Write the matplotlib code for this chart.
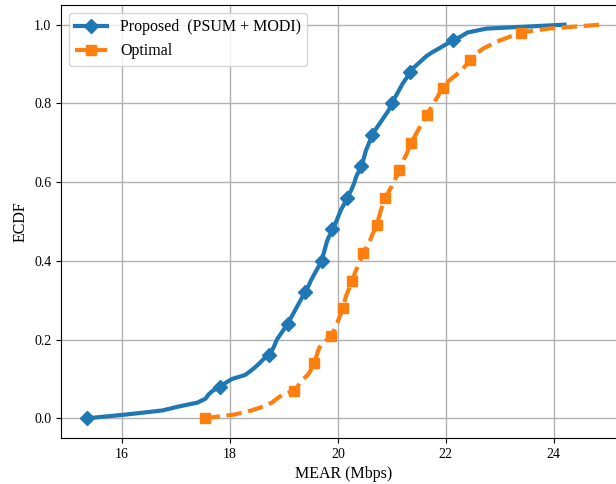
import matplotlib
matplotlib.use("Agg")
import matplotlib.pyplot as plt
import numpy as np

plt.rcParams['font.family'] = ['Liberation Serif', 'DejaVu Serif']

# Sorted samples (Mbps)
proposed_mear = [
    15.35, 16.10, 16.75, 17.05, 17.40, 17.55, 17.60, 17.68, 17.82, 17.92,
    18.04, 18.28, 18.38, 18.47, 18.55, 18.62, 18.72, 18.77, 18.81, 18.84,
    18.87, 18.92, 18.97, 19.02, 19.07, 19.11, 19.15, 19.19, 19.23, 19.27,
    19.31, 19.35, 19.39, 19.43, 19.47, 19.50, 19.54, 19.58, 19.62, 19.66,
    19.70, 19.72, 19.74, 19.76, 19.78, 19.80, 19.83, 19.87, 19.90, 19.94,
    19.97, 20.00, 20.03, 20.06, 20.10, 20.14, 20.17, 20.21, 20.25, 20.28,
    20.31, 20.33, 20.36, 20.40, 20.43, 20.46, 20.48, 20.50, 20.52, 20.55,
    20.58, 20.61, 20.64, 20.68, 20.73, 20.78, 20.83, 20.88, 20.93, 20.97,
    21.01, 21.04, 21.08, 21.12, 21.16, 21.20, 21.25, 21.30, 21.34, 21.40,
    21.48, 21.56, 21.64, 21.75, 21.88, 22.00, 22.14, 22.28, 22.40, 22.75,
    24.20,
]
optimal_mear = [
    17.53, 18.10, 18.40, 18.62, 18.78, 18.87, 18.98, 19.18, 19.25, 19.30,
    19.36, 19.44, 19.49, 19.52, 19.55, 19.58, 19.61, 19.63, 19.66, 19.72,
    19.80, 19.88, 19.92, 19.95, 19.98, 20.01, 20.04, 20.07, 20.09, 20.11,
    20.13, 20.15, 20.18, 20.21, 20.24, 20.26, 20.29, 20.32, 20.35, 20.38,
    20.41, 20.44, 20.47, 20.51, 20.55, 20.59, 20.62, 20.65, 20.69, 20.72,
    20.74, 20.76, 20.78, 20.80, 20.83, 20.86, 20.88, 20.92, 20.96, 21.00,
    21.03, 21.07, 21.11, 21.14, 21.17, 21.20, 21.23, 21.27, 21.30, 21.33,
    21.36, 21.40, 21.44, 21.48, 21.52, 21.56, 21.61, 21.65, 21.69, 21.73,
    21.77, 21.82, 21.86, 21.90, 21.94, 22.00, 22.08, 22.17, 22.26, 22.33,
    22.39, 22.45, 22.52, 22.60, 22.70, 22.85, 23.00, 23.20, 23.39, 23.90,
    24.86,
]
series_labels = ['Proposed  (PSUM + MODI)', 'Optimal']
x_label = 'MEAR (Mbps)'
y_label = 'ECDF'


def ecdf(values):
    x = np.sort(np.asarray(values))
    y = np.arange(len(x)) / (len(x) - 1)
    return x, y


fig = plt.figure(figsize=(6.16, 4.84), dpi=100)
ax = fig.add_axes([61 / 616, 46 / 484, 565 / 616, 433 / 484])

xb, yb = ecdf(proposed_mear)
xo, yo = ecdf(optimal_mear)

ax.plot(xb, yb, color='#1f77b4', lw=3, marker='D', markersize=7,
        markevery=8, label=series_labels[0], zorder=3)
ax.plot(xo, yo, color='#ff7f0e', lw=3, ls='--', marker='s', markersize=6.5,
        markevery=7, label=series_labels[1], zorder=3)

ax.set_xlim(14.87, 25.34)
ax.set_ylim(-0.05, 1.05)
ax.set_xticks([16, 18, 20, 22, 24])
ax.set_yticks([0.0, 0.2, 0.4, 0.6, 0.8, 1.0])
ax.tick_params(labelsize=10)
ax.grid(True, color='#b0b0b0', lw=1)
ax.set_axisbelow(True)
ax.set_xlabel(x_label, fontsize=11.5)
ax.set_ylabel(y_label, fontsize=11.5)
ax.legend(loc='upper left', fontsize=11.5, framealpha=0.8)

fig.savefig('out.png', dpi=100)
